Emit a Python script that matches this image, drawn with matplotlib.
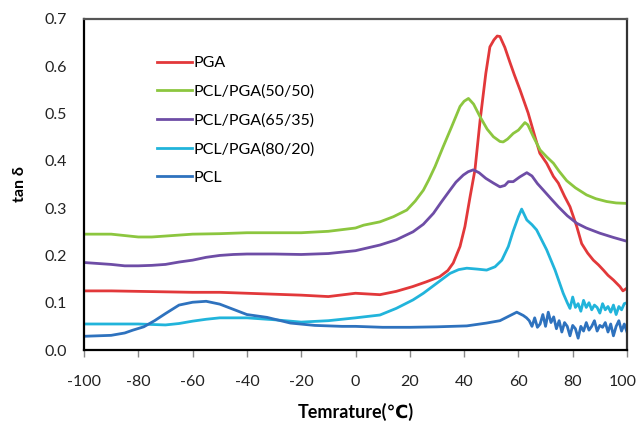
import matplotlib
matplotlib.use("Agg")
import matplotlib.pyplot as plt
import matplotlib.transforms as mtransforms

plt.rcParams['font.family'] = ['Lato', 'DejaVu Sans']

# ---- data ----
pga_x = [-100, -90, -80, -70, -60, -50, -40, -30, -20, -10, 0, 9, 15, 21, 26, 31, 34, 36, 38.5, 40.3, 42.2, 44, 45.9, 48, 49.5, 51, 52.2, 53.2, 55, 56.9,
         58.5, 60.6, 63.6, 66.1, 67.9, 70.4, 72.9, 74.7, 77, 79, 81.5, 83.3, 85.5, 87.6, 89.5, 91.3, 93, 95, 97.4, 98.5, 100]
pga_y = [0.125, 0.125, 0.124, 0.123, 0.122, 0.122, 0.120, 0.118, 0.116, 0.113, 0.120, 0.117, 0.124, 0.134, 0.144, 0.155, 0.168, 0.184, 0.219, 0.261, 0.324, 0.381, 0.486, 0.585, 0.641, 0.656, 0.664, 0.663, 0.640, 0.608,
         0.582, 0.550, 0.501, 0.451, 0.416, 0.395, 0.367, 0.353, 0.325, 0.303, 0.261, 0.225, 0.205, 0.190, 0.180, 0.169, 0.158, 0.148, 0.134, 0.125, 0.131]

g5050_x = [-100, -90, -85, -80, -75, -70, -60, -50, -40, -30, -20, -10, 0, 3, 9, 14, 18.9, 22, 25, 27, 29.3, 32.3, 35.4, 38.5, 40, 41.6, 43.5, 45.9, 48.5, 50.8, 53.2, 54.4, 56,
           58.1, 60, 62.4, 63.5, 65.5, 68, 70.5, 72.9, 75, 77.8, 81, 85.1, 88.5, 92.5, 96, 100]
g5050_y = [0.245, 0.245, 0.242, 0.239, 0.239, 0.241, 0.245, 0.246, 0.248, 0.248, 0.248, 0.251, 0.258, 0.264, 0.271, 0.282, 0.296, 0.315, 0.338, 0.360, 0.388, 0.430, 0.472, 0.515, 0.526, 0.532, 0.520, 0.493, 0.467, 0.451, 0.441, 0.440, 0.446,
           0.458, 0.465, 0.481, 0.476, 0.451, 0.423, 0.408, 0.395, 0.378, 0.358, 0.343, 0.328, 0.320, 0.314, 0.311, 0.310]

g6535_x = [-100, -90, -85, -80, -75, -70, -65, -60, -55, -50, -45, -40, -30, -20, -10, 0, 9, 15, 21.2, 25, 28.7, 31.5, 34.8, 37, 39.7, 41.5, 43.4, 45.5, 48, 50.8, 53.2, 55, 56.3,
           58.1, 60.5, 63.1, 65, 67, 69.2, 72, 74.7, 78, 81.5, 85, 90, 95, 99.3, 100]
g6535_y = [0.185, 0.181, 0.178, 0.178, 0.179, 0.181, 0.186, 0.190, 0.196, 0.200, 0.202, 0.203, 0.203, 0.202, 0.204, 0.210, 0.222, 0.233, 0.250, 0.266, 0.289, 0.312, 0.338, 0.355, 0.370, 0.377, 0.381, 0.375, 0.363, 0.353, 0.345, 0.348, 0.356,
           0.356, 0.366, 0.375, 0.368, 0.352, 0.338, 0.320, 0.303, 0.284, 0.268, 0.258, 0.247, 0.238, 0.231, 0.230]

g8020_x = [-100, -90, -80, -70, -65, -60, -55, -50, -40, -30, -20, -10, 0, 9, 15, 21.2, 25, 29.9, 34.8, 38, 41, 45, 48.3, 51.4, 53.9, 56.3, 58, 60, 61.2, 63.1, 65, 66.7, 70.4, 73.5, 76.5,
           78, 79, 80, 81, 82, 83, 84, 85, 86, 87, 88, 89, 90, 91, 92, 93, 94, 95, 96, 97, 98, 99, 100]
g8020_y = [0.055, 0.055, 0.055, 0.053, 0.056, 0.061, 0.065, 0.068, 0.068, 0.064, 0.059, 0.062, 0.068, 0.074, 0.088, 0.106, 0.120, 0.141, 0.162, 0.170, 0.173, 0.171, 0.169, 0.176, 0.190, 0.219, 0.250, 0.282, 0.298, 0.275, 0.265, 0.254, 0.212, 0.169, 0.120,
           0.100, 0.088, 0.112, 0.090, 0.098, 0.082, 0.105, 0.090, 0.100, 0.085, 0.095, 0.090, 0.078, 0.098, 0.085, 0.092, 0.080, 0.095, 0.075, 0.092, 0.085, 0.098, 0.100]

pcl_x = [-100, -90, -85, -82, -78, -74, -70, -65, -60, -55, -50, -45, -40, -32.6, -24, -15, -5, 0, 10, 20, 30, 41, 48.3, 53.2, 56.3, 59.4, 61.8, 63,
         64, 65, 66, 67, 68, 69, 70, 71, 72, 73, 74, 75, 76, 77, 78, 79, 80, 81, 82, 83, 84, 85, 86, 87, 88, 89, 90, 91, 92, 93, 94, 95, 96, 97, 98, 99, 100]
pcl_y = [0.029, 0.031, 0.036, 0.042, 0.049, 0.062, 0.077, 0.095, 0.101, 0.103, 0.097, 0.086, 0.075, 0.069, 0.057, 0.052, 0.050, 0.050, 0.048, 0.048, 0.049, 0.051, 0.057, 0.062, 0.071, 0.080, 0.073, 0.068,
         0.062, 0.050, 0.068, 0.048, 0.055, 0.075, 0.050, 0.080, 0.058, 0.070, 0.045, 0.062, 0.038, 0.058, 0.050, 0.030, 0.052, 0.045, 0.025, 0.050, 0.040, 0.058, 0.042, 0.050, 0.062, 0.040, 0.052, 0.048, 0.058, 0.038, 0.055, 0.030, 0.050, 0.062, 0.040, 0.055, 0.038]

series = [
    ("PGA", pga_x, pga_y, "#E2383A"),
    ("PCL/PGA(50/50)", g5050_x, g5050_y, "#8CC63F"),
    ("PCL/PGA(65/35)", g6535_x, g6535_y, "#6E4DA6"),
    ("PCL/PGA(80/20)", g8020_x, g8020_y, "#21B4DB"),
    ("PCL", pcl_x, pcl_y, "#2E72BE"),
]

x_ticks = [-100, -80, -60, -40, -20, 0, 20, 40, 60, 80, 100]
y_ticks = [0.0, 0.1, 0.2, 0.3, 0.4, 0.5, 0.6, 0.7]

fig = plt.figure(figsize=(6.39, 4.24), dpi=100)
ax = fig.add_axes([84/639, 74/424, 543/639, 331/424])

for name, xs, ys, c in series:
    ax.plot(xs, ys, color=c, lw=2.0, label=name, solid_joinstyle='round')

ax.set_xlim(-100, 100)
ax.set_ylim(0, 0.7)
ax.set_xticks(x_ticks)
ax.set_xticklabels([str(t) for t in x_ticks])
ax.set_yticks(y_ticks)
ax.set_yticklabels([f"{t:.1f}" for t in y_ticks])
ax.tick_params(axis='x', direction='out', length=5, width=1, color='#888888', pad=13, labelsize=11.5, labelcolor='#222222')
ax.tick_params(axis='y', length=0, pad=12, labelsize=11.5, labelcolor='#222222')
for s in ax.spines.values():
    s.set_linewidth(1.6)
    s.set_color('black')
ax.spines['top'].set_color('#555555')
ax.spines['right'].set_color('#333333')

# keep the last x tick label inside the figure
last = ax.get_xticklabels()[-1]
last.set_transform(last.get_transform() + mtransforms.ScaledTranslation(-4/100, 0, fig.dpi_scale_trans))

ax.set_ylabel("tan δ", fontsize=11.5, fontweight='bold', labelpad=13)
ax.set_xlabel("Temrature(℃)", fontsize=13, fontweight='bold', labelpad=10)

leg = ax.legend(loc='upper left', bbox_to_anchor=(0.134, 0.888), frameon=False,
                fontsize=11.5, handlelength=2.2, handletextpad=0.1, labelspacing=0.9,
                borderpad=0, borderaxespad=0)

fig.savefig("out.png", dpi=100)
